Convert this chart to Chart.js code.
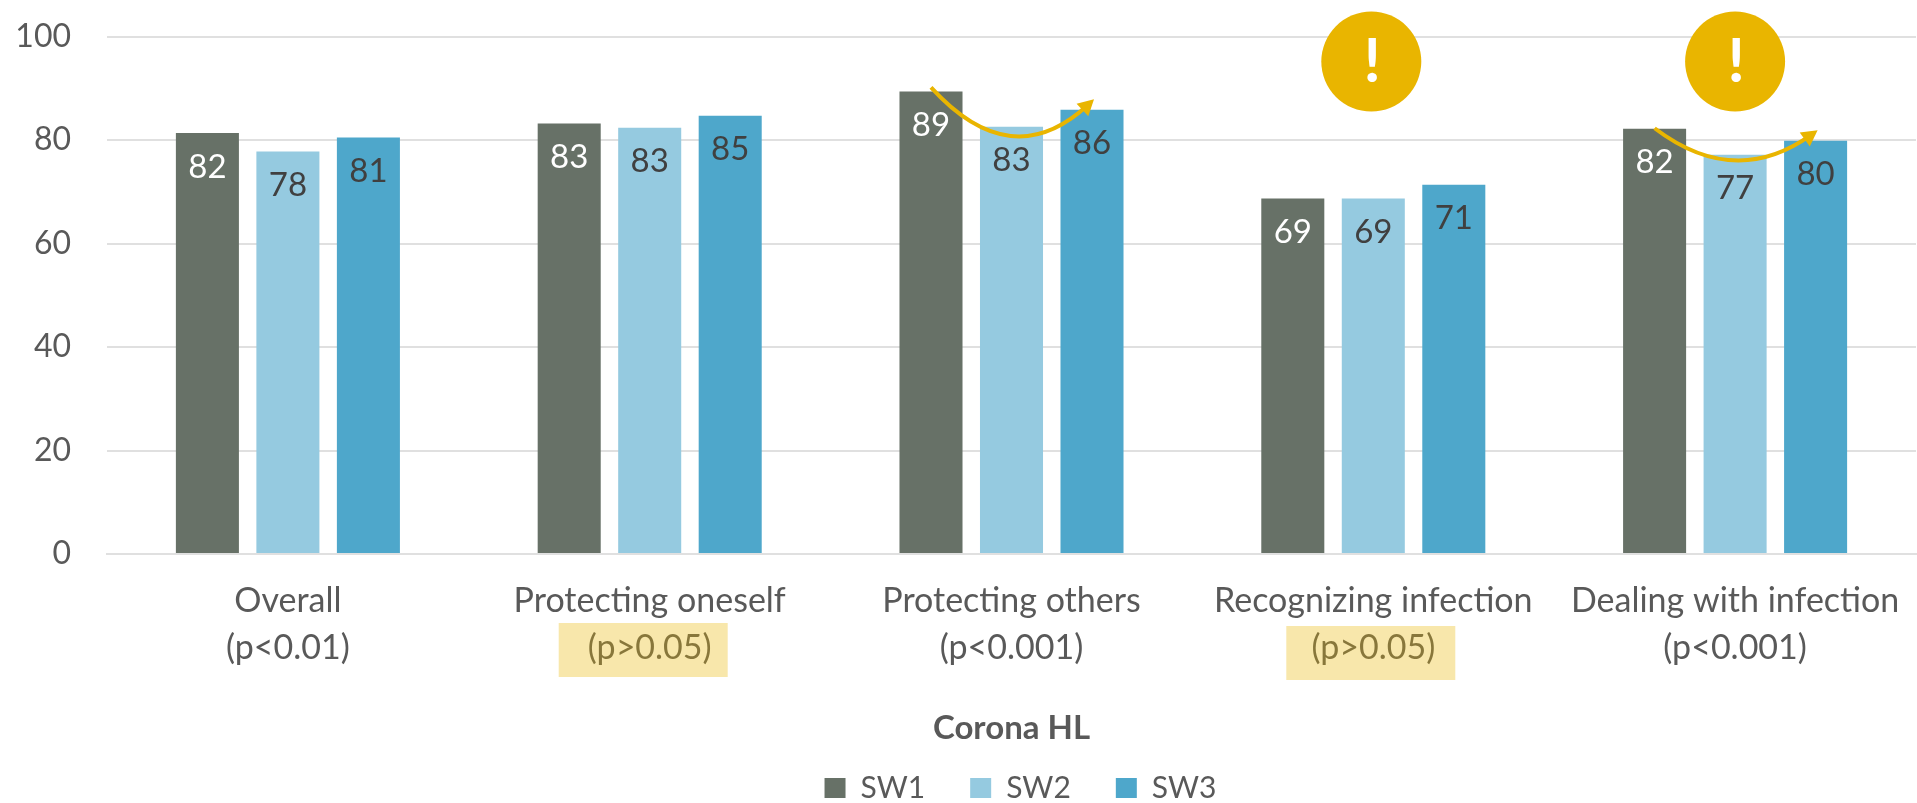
<!DOCTYPE html>
<html>
<head>
<meta charset="utf-8">
<title>Corona HL</title>
<script src="https://cdn.jsdelivr.net/npm/chart.js@4"></script>
<style>
html, body { margin: 0; padding: 0; background: #fff; }
#wrap { width: 1917px; height: 803px; }
</style>
</head>
<body>
<div id="wrap"><canvas id="hlChart"></canvas></div>
<script>
var categories = [
    ["Overall", "(p<0.01)"],
    ["Protecting oneself", "(p>0.05)"],
    ["Protecting others", "(p<0.001)"],
    ["Recognizing infection", "(p>0.05)"],
    ["Dealing with infection", "(p<0.001)"]
];
var sw1 = [81.4, 83.2, 89.4, 68.7, 82.2];
var sw2 = [77.8, 82.4, 82.6, 68.7, 77.2];
var sw3 = [80.5, 84.7, 85.9, 71.4, 79.9];
// printed labels are rounded in the source and don't always agree with the bars
var sw1Labels = [82, 83, 89, 69, 82];
var sw2Labels = [78, 83, 83, 69, 77];
var sw3Labels = [81, 85, 86, 71, 80];
var yTicks = [0, 20, 40, 60, 80, 100];

var highlightGroups = [1, 3];
var warningGroups = [3, 4];
var warningValue = 95.2;
var arrowGroups = [2, 4];
var arrowStart = [90.2, 82.3];
var arrowControl = [73.1, 70.5];
var arrowEnd = [87.9, 81.9];

var FONT = "Lato, Carlito, Calibri, sans-serif";
var GOLD = "#E9B500";

var annotations = {
    id: "annotations",
    beforeInit: function(chart) {
        // legend takes no room in the layout, it gets placed in afterLayout
        var fit = chart.legend.fit;
        chart.legend.fit = function() {
            fit.call(this);
            this.height = 0;
        };
    },
    afterLayout: function(chart) {
        var area = chart.chartArea;
        chart.legend.left = area.left + 18;
        chart.legend.right = area.right;
        chart.legend.top = 728;
        chart.legend.bottom = 803;
    },
    afterDatasetsDraw: function(chart) {
        var ctx = chart.ctx;
        var y = chart.scales.y;

        // value labels, inside the top of each bar
        chart.data.datasets.forEach(function(ds, i) {
            chart.getDatasetMeta(i).data.forEach(function(bar, j) {
                ctx.save();
                ctx.font = "33px " + FONT;
                ctx.fillStyle = ds.labelColor;
                ctx.textAlign = "center";
                ctx.textBaseline = "middle";
                ctx.fillText(ds.printed[j], bar.x, bar.y + 34);
                ctx.restore();
            });
        });

        // curved arrows
        arrowGroups.forEach(function(g, i) {
            var first = chart.getDatasetMeta(0).data[g];
            var mid = chart.getDatasetMeta(1).data[g];
            var last = chart.getDatasetMeta(2).data[g];
            var sx = first.x, sy = y.getPixelForValue(arrowStart[i]);
            var cx = mid.x, cy = y.getPixelForValue(arrowControl[i]);
            var ex = last.x + 2, ey = y.getPixelForValue(arrowEnd[i]);
            var a = Math.atan2(ey - cy, ex - cx);
            ctx.save();
            ctx.strokeStyle = GOLD;
            ctx.fillStyle = GOLD;
            ctx.lineWidth = 4;
            ctx.beginPath();
            ctx.moveTo(sx, sy);
            ctx.quadraticCurveTo(cx, cy, ex - 8 * Math.cos(a), ey - 8 * Math.sin(a));
            ctx.stroke();
            ctx.beginPath();
            ctx.moveTo(ex, ey);
            ctx.lineTo(ex - 18 * Math.cos(a - 0.5), ey - 18 * Math.sin(a - 0.5));
            ctx.lineTo(ex - 18 * Math.cos(a + 0.5), ey - 18 * Math.sin(a + 0.5));
            ctx.closePath();
            ctx.fill();
            ctx.restore();
        });

        // warning circles, the first one sits slightly left of its group
        warningGroups.forEach(function(g, i) {
            var x = chart.scales.x.getPixelForTick(g) - (i == 0 ? 2 : 0);
            var cy = y.getPixelForValue(warningValue);
            ctx.save();
            ctx.fillStyle = GOLD;
            ctx.beginPath();
            ctx.arc(x, cy, 50, 0, Math.PI * 2);
            ctx.fill();
            ctx.fillStyle = "#fff";
            ctx.font = "bold 62px " + FONT;
            ctx.textAlign = "center";
            ctx.textBaseline = "middle";
            ctx.fillText("!", x + 1, cy);
            ctx.restore();
        });
    },
    afterDraw: function(chart) {
        // translucent boxes over the non significant p values
        var ctx = chart.ctx;
        highlightGroups.forEach(function(g, i) {
            var x = chart.scales.x.getPixelForTick(g);
            var top = chart.chartArea.bottom + (i == 0 ? 69 : 72);
            ctx.save();
            ctx.fillStyle = "rgba(233,181,0,0.33)";
            ctx.fillRect(x - (i == 0 ? 91 : 87), top, 169, 54);
            ctx.restore();
        });
    }
};

var ctx = document.getElementById("hlChart").getContext("2d");
var hlChart = new Chart(ctx, {
    type: "bar",
    data: {
        labels: categories,
        datasets: [
            { label: "SW1", data: sw1, printed: sw1Labels, labelColor: "#FFFFFF", backgroundColor: "#677167" },
            { label: "SW2", data: sw2, printed: sw2Labels, labelColor: "#404040", backgroundColor: "#95CAE0" },
            { label: "SW3", data: sw3, printed: sw3Labels, labelColor: "#404040", backgroundColor: "#4EA7CB" }
        ]
    },
    options: {
        responsive: true,
        maintainAspectRatio: false,
        animation: false,
        categoryPercentage: 0.6675,
        barPercentage: 0.783,
        layout: { padding: { top: 0, right: 1, bottom: 0, left: 0 } },
        plugins: {
            tooltip: { enabled: false },
            legend: {
                position: "bottom",
                labels: {
                    boxWidth: 21,
                    boxHeight: 20,
                    padding: 45,
                    color: "#595959",
                    font: { family: FONT, size: 30 }
                }
            }
        },
        scales: {
            x: {
                afterFit: function(axis) { axis.height = 249; },
                grid: { display: false },
                border: { color: "#E0E0E0", width: 2 },
                ticks: {
                    color: "#595959",
                    padding: 16,
                    maxRotation: 0,
                    autoSkip: false,
                    font: { family: FONT, size: 34, lineHeight: 1.38 }
                },
                title: {
                    display: true,
                    text: "Corona HL",
                    color: "#595959",
                    padding: { top: 0, bottom: 55 },
                    font: { family: FONT, size: 33, weight: "bold" }
                }
            },
            y: {
                min: 0,
                max: 100,
                afterBuildTicks: function(axis) {
                    axis.ticks = yTicks.map(function(v) { return { value: v }; });
                },
                afterFit: function(axis) { axis.width = 107; },
                // tick padding also pads the top of the plot, so most of the gap is an invisible tick
                grid: { color: "#E0E0E0", lineWidth: 2, tickLength: 18.5, tickColor: "rgba(0,0,0,0)" },
                border: { display: false },
                ticks: {
                    color: "#595959",
                    padding: 17.5,
                    font: { family: FONT, size: 32 }
                }
            }
        }
    },
    plugins: [annotations]
});
</script>
</body>
</html>
